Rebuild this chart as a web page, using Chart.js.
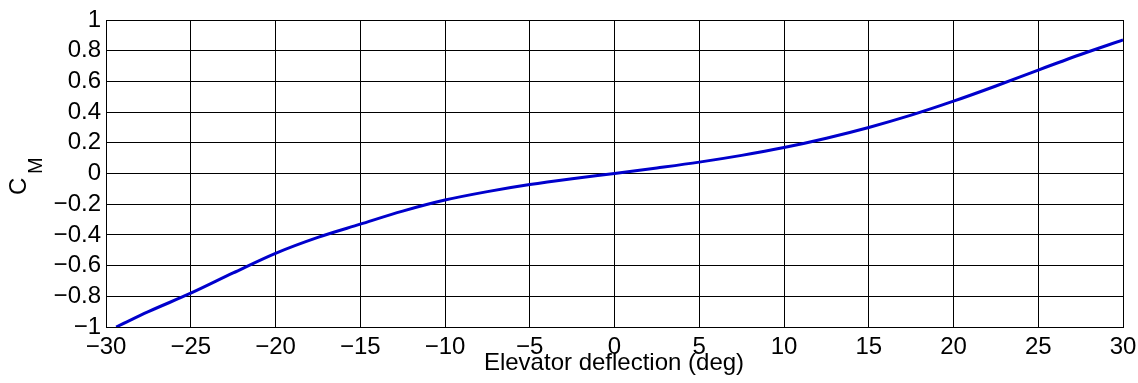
<!DOCTYPE html>
<html>
<head>
<meta charset="utf-8">
<script src="https://cdn.jsdelivr.net/npm/chart.js@4"></script>
<style>
  html, body { margin: 0; padding: 0; background: #fff; }
  #wrap { width: 1138px; height: 383px; }
</style>
</head>
<body>
<div id="wrap"><canvas id="cmChart" width="1138" height="383"></canvas></div>
<script>
// elevator deflection (deg) and pitching moment coefficient
var deflection = [-29.4, -27.5, -25, -22.5, -20, -17.5, -15, -12.5, -10, -7.5, -5, -2.5,
                  0, 2.5, 5, 7.5, 10, 12.5, 15, 17.5, 20, 22.5, 25, 27.5, 30];
var cm = [-1.0, -0.90, -0.78, -0.648, -0.52, -0.416, -0.33, -0.245, -0.173, -0.118, -0.072, -0.034,
          0, 0.036, 0.074, 0.118, 0.169, 0.23, 0.30, 0.38, 0.471, 0.57, 0.674, 0.775, 0.87];
var xTicks = [-30, -25, -20, -15, -10, -5, 0, 5, 10, 15, 20, 25, 30];
var yTicks = [-1, -0.8, -0.6, -0.4, -0.2, 0, 0.2, 0.4, 0.6, 0.8, 1];

var points = deflection.map(function(d, i) { return { x: d, y: cm[i] }; });

function fmt(v) {
    var s = String(Math.round(v * 10) / 10);
    return s.replace('-', '\u2212');
}

Chart.defaults.font.family = '"Liberation Sans", Arial, sans-serif';
Chart.defaults.font.size = 24;
Chart.defaults.color = '#000';

// axis titles, drawn by hand so the subscript on C_M can be placed
var axisTitles = {
    id: 'axisTitles',
    afterDraw: function(chart) {
        var c = chart.ctx;
        c.save();
        c.fillStyle = '#000';
        c.textBaseline = 'alphabetic';
        c.font = '24px "Liberation Sans", Arial, sans-serif';
        c.textAlign = 'center';
        c.fillText('Elevator deflection (deg)', 614, 370);

        c.rotate(-Math.PI / 2);
        c.textAlign = 'left';
        c.fillText('C', -195, 26);
        c.font = '20px "Liberation Sans", Arial, sans-serif';
        c.fillText('M', -174, 42);
        c.restore();
    }
};

new Chart(document.getElementById('cmChart'), {
    type: 'line',
    data: {
        datasets: [{
            data: points,
            borderColor: '#0000cc',
            borderWidth: 3,
            pointRadius: 0,
            fill: false,
            cubicInterpolationMode: 'monotone'
        }]
    },
    options: {
        responsive: false,
        animation: false,
        layout: { padding: { top: 20, right: 15, left: 0, bottom: 0 } },
        plugins: {
            legend: { display: false },
            title: { display: false },
            tooltip: { enabled: false }
        },
        scales: {
            x: {
                type: 'linear',
                min: -30,
                max: 30,
                afterBuildTicks: function(scale) {
                    scale.ticks = xTicks.map(function(v) { return { value: v }; });
                },
                afterFit: function(scale) {
                    scale.height = 56;
                    scale.paddingLeft = 0;
                    scale.paddingRight = 0;
                },
                grid: { color: '#000', lineWidth: 1, drawTicks: false },
                border: { color: '#000', width: 1 },
                ticks: {
                    autoSkip: false,
                    maxRotation: 0,
                    padding: 6,
                    callback: function(v) { return fmt(v); }
                }
            },
            y: {
                min: -1,
                max: 1,
                afterBuildTicks: function(scale) {
                    scale.ticks = yTicks.map(function(v) { return { value: v }; });
                },
                afterFit: function(scale) {
                    scale.width = 106;
                    scale.paddingTop = 0;
                    scale.paddingBottom = 0;
                },
                grid: { color: '#000', lineWidth: 1, drawTicks: false },
                border: { color: '#000', width: 1 },
                ticks: {
                    autoSkip: false,
                    padding: 5,
                    callback: function(v) { return fmt(v); }
                }
            }
        }
    },
    plugins: [axisTitles]
});
</script>
</body>
</html>
